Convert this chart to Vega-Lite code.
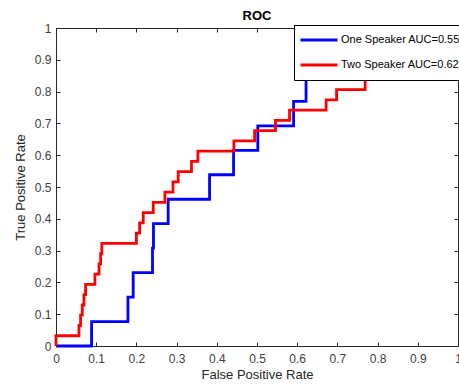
{
  "$schema": "https://vega.github.io/schema/vega-lite/v6.json",
  "width": 402,
  "height": 318,
  "autosize": {"type": "none"},
  "padding": {"left": 56, "top": 28, "right": 1, "bottom": 39},
  "background": "white",
  "title": {"text": "ROC", "fontSize": 13, "font": "Liberation Sans", "fontWeight": "bold", "offset": -1, "color": "black"},
  "config": {
    "view": {"stroke": "#262626", "strokeWidth": 1},
    "axis": {"grid": false, "labelFont": "Liberation Sans", "titleFont": "Liberation Sans", "labelFontSize": 12, "titleFontSize": 13, "labelColor": "#404040", "titleColor": "#262626", "titleFontWeight": "normal", "domainColor": "#262626", "tickColor": "#262626", "tickSize": -4}
  },
  "data": {"values": [
    {"s": "One Speaker AUC=0.55", "i": 0, "x": 0, "y": 0},
    {"s": "One Speaker AUC=0.55", "i": 1, "x": 0.0885, "y": 0.0769},
    {"s": "One Speaker AUC=0.55", "i": 2, "x": 0.179, "y": 0.1538},
    {"s": "One Speaker AUC=0.55", "i": 3, "x": 0.192, "y": 0.2308},
    {"s": "One Speaker AUC=0.55", "i": 4, "x": 0.240, "y": 0.3077},
    {"s": "One Speaker AUC=0.55", "i": 5, "x": 0.2425, "y": 0.3846},
    {"s": "One Speaker AUC=0.55", "i": 6, "x": 0.279, "y": 0.4615},
    {"s": "One Speaker AUC=0.55", "i": 7, "x": 0.382, "y": 0.5385},
    {"s": "One Speaker AUC=0.55", "i": 8, "x": 0.4417, "y": 0.6154},
    {"s": "One Speaker AUC=0.55", "i": 9, "x": 0.502, "y": 0.6923},
    {"s": "One Speaker AUC=0.55", "i": 10, "x": 0.591, "y": 0.7692},
    {"s": "One Speaker AUC=0.55", "i": 11, "x": 0.622, "y": 0.8462},
    {"s": "One Speaker AUC=0.55", "i": 12, "x": 0.85, "y": 0.9231},
    {"s": "One Speaker AUC=0.55", "i": 13, "x": 0.95, "y": 1},
    {"s": "One Speaker AUC=0.55", "i": 14, "x": 1, "y": 1},
    {"s": "Two Speaker AUC=0.62", "i": 0, "x": 0, "y": 0},
    {"s": "Two Speaker AUC=0.62", "i": 1, "x": 0, "y": 0.0323},
    {"s": "Two Speaker AUC=0.62", "i": 2, "x": 0.0571, "y": 0.0645},
    {"s": "Two Speaker AUC=0.62", "i": 3, "x": 0.0612, "y": 0.0968},
    {"s": "Two Speaker AUC=0.62", "i": 4, "x": 0.0653, "y": 0.129},
    {"s": "Two Speaker AUC=0.62", "i": 5, "x": 0.0695, "y": 0.1613},
    {"s": "Two Speaker AUC=0.62", "i": 6, "x": 0.0736, "y": 0.1935},
    {"s": "Two Speaker AUC=0.62", "i": 7, "x": 0.0968, "y": 0.2258},
    {"s": "Two Speaker AUC=0.62", "i": 8, "x": 0.107, "y": 0.2581},
    {"s": "Two Speaker AUC=0.62", "i": 9, "x": 0.111, "y": 0.2903},
    {"s": "Two Speaker AUC=0.62", "i": 10, "x": 0.114, "y": 0.3226},
    {"s": "Two Speaker AUC=0.62", "i": 11, "x": 0.200, "y": 0.3548},
    {"s": "Two Speaker AUC=0.62", "i": 12, "x": 0.208, "y": 0.3871},
    {"s": "Two Speaker AUC=0.62", "i": 13, "x": 0.217, "y": 0.4194},
    {"s": "Two Speaker AUC=0.62", "i": 14, "x": 0.242, "y": 0.4516},
    {"s": "Two Speaker AUC=0.62", "i": 15, "x": 0.271, "y": 0.4839},
    {"s": "Two Speaker AUC=0.62", "i": 16, "x": 0.291, "y": 0.5161},
    {"s": "Two Speaker AUC=0.62", "i": 17, "x": 0.304, "y": 0.5484},
    {"s": "Two Speaker AUC=0.62", "i": 18, "x": 0.337, "y": 0.5806},
    {"s": "Two Speaker AUC=0.62", "i": 19, "x": 0.353, "y": 0.6129},
    {"s": "Two Speaker AUC=0.62", "i": 20, "x": 0.4425, "y": 0.6452},
    {"s": "Two Speaker AUC=0.62", "i": 21, "x": 0.494, "y": 0.6774},
    {"s": "Two Speaker AUC=0.62", "i": 22, "x": 0.546, "y": 0.7097},
    {"s": "Two Speaker AUC=0.62", "i": 23, "x": 0.581, "y": 0.7419},
    {"s": "Two Speaker AUC=0.62", "i": 24, "x": 0.672, "y": 0.7742},
    {"s": "Two Speaker AUC=0.62", "i": 25, "x": 0.698, "y": 0.8065},
    {"s": "Two Speaker AUC=0.62", "i": 26, "x": 0.769, "y": 0.871},
    {"s": "Two Speaker AUC=0.62", "i": 27, "x": 0.80, "y": 0.9355},
    {"s": "Two Speaker AUC=0.62", "i": 28, "x": 0.90, "y": 1},
    {"s": "Two Speaker AUC=0.62", "i": 29, "x": 1, "y": 1}
  ]},
  "layer": [
    {
      "mark": {"type": "line", "interpolate": "step-after", "strokeWidth": 2.8},
      "encoding": {
        "x": {"field": "x", "type": "quantitative", "scale": {"domain": [0, 1], "nice": false, "zero": false},
              "axis": {"orient": "bottom", "title": "False Positive Rate", "values": [0,0.1,0.2,0.3,0.4,0.5,0.6,0.7,0.8,0.9,1], "format": ".1~f", "labelPadding": 11, "titlePadding": 4, "labelFlush": false, "domain": false}},
        "y": {"field": "y", "type": "quantitative", "scale": {"domain": [0, 1], "nice": false, "zero": false},
              "axis": {"orient": "left", "title": "True Positive Rate", "values": [0,0.1,0.2,0.3,0.4,0.5,0.6,0.7,0.8,0.9,1], "format": ".1~f", "labelPadding": 9, "titlePadding": 7, "labelFlush": false, "domain": false}},
        "order": {"field": "i", "type": "quantitative"},
        "color": {"field": "s", "type": "nominal", "scale": {"range": ["#0000ff", "#ff0000"]},
                  "legend": {"orient": "none", "legendX": 238, "legendY": -3, "title": null, "strokeColor": "black", "fillColor": "white", "padding": 5, "rowPadding": 5, "symbolType": "stroke", "symbolSize": 1369, "symbolStrokeWidth": 2.8, "clipHeight": 20, "labelFontSize": 11, "labelFont": "Liberation Sans", "labelColor": "black", "labelOffset": 2, "labelLimit": 0}}
      }
    },
    {
      "mark": {"type": "point", "opacity": 0},
      "encoding": {
        "x": {"field": "x", "type": "quantitative", "axis": {"orient": "top", "title": null, "labels": false, "domain": false, "values": [0,0.1,0.2,0.3,0.4,0.5,0.6,0.7,0.8,0.9,1]}},
        "y": {"field": "y", "type": "quantitative", "axis": {"orient": "right", "title": null, "labels": false, "domain": false, "values": [0,0.1,0.2,0.3,0.4,0.5,0.6,0.7,0.8,0.9,1]}}
      }
    }
  ],
  "resolve": {"axis": {"x": "independent", "y": "independent"}}
}
